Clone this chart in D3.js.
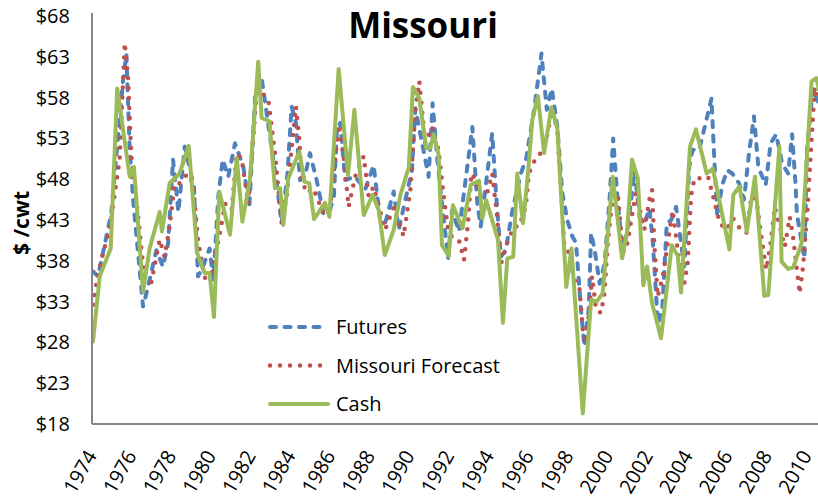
<!DOCTYPE html>
<html>
<head>
<meta charset="utf-8">
<script src="https://cdn.jsdelivr.net/npm/d3@7"></script>
<style>
  body { margin: 0; background: #fff; }
  text { font-family: "Open Sans", "Liberation Sans", sans-serif; fill: #000; }
</style>
</head>
<body>
<svg id="chart" width="818" height="499"></svg>
<script>
// Quarterly-ish readings, [year, $/cwt].
var futures = [
  [1974.00, 36.7], [1974.25, 36.1], [1974.92, 43.8], [1975.26, 53.2], [1975.51, 60.0],
  [1975.68, 63.3], [1975.85, 51.6], [1976.02, 45.5], [1976.52, 32.4], [1976.73, 34.4],
  [1977.19, 39.3], [1977.52, 37.3], [1977.78, 40.1], [1978.03, 50.4], [1978.30, 44.0],
  [1978.62, 52.0], [1979.08, 47.1], [1979.29, 36.1], [1979.54, 37.3], [1979.87, 39.5],
  [1980.06, 35.7], [1980.31, 45.9], [1980.53, 50.4], [1980.81, 48.3], [1981.15, 52.4],
  [1981.57, 49.5], [1981.87, 44.6], [1982.16, 58.1], [1982.49, 60.4], [1983.25, 47.5],
  [1983.50, 42.6], [1983.78, 48.3], [1984.00, 56.9], [1984.22, 54.9], [1984.42, 47.9],
  [1984.67, 48.3], [1984.92, 51.2], [1985.26, 47.9], [1985.60, 43.8], [1985.90, 44.0],
  [1986.13, 45.9], [1986.28, 54.0], [1986.45, 54.9], [1986.70, 47.9], [1987.20, 48.3],
  [1987.70, 46.7], [1988.13, 49.7], [1988.46, 43.0], [1988.71, 42.6], [1989.14, 46.5],
  [1989.39, 41.8], [1990.06, 49.1], [1990.23, 56.7], [1990.57, 52.4], [1990.90, 48.3],
  [1991.10, 57.3], [1991.32, 50.8], [1991.57, 45.0], [1991.88, 38.3], [1992.08, 44.2],
  [1992.43, 41.6], [1993.10, 54.4], [1993.35, 45.0], [1993.52, 42.2], [1994.10, 53.6],
  [1994.28, 46.7], [1994.53, 38.5], [1994.78, 39.3], [1995.12, 44.2], [1995.54, 48.7],
  [1995.80, 50.4], [1996.21, 56.5], [1996.58, 63.4], [1996.85, 56.5], [1997.10, 59.1],
  [1997.38, 54.4], [1997.63, 46.3], [1997.88, 43.0], [1998.13, 41.0], [1998.32, 40.2],
  [1998.57, 32.0], [1998.74, 27.5], [1998.96, 32.0], [1999.08, 41.4], [1999.26, 39.3],
  [1999.51, 35.2], [1999.76, 37.7], [2000.02, 45.9], [2000.19, 53.0], [2000.44, 44.6],
  [2000.69, 38.9], [2000.94, 42.2], [2001.27, 49.1], [2001.52, 43.4], [2001.77, 42.6],
  [2002.02, 44.4], [2002.19, 40.2], [2002.44, 30.3], [2002.66, 32.0], [2002.89, 42.6],
  [2003.11, 43.0], [2003.36, 44.6], [2003.52, 41.8], [2003.77, 37.3], [2004.02, 49.5],
  [2004.19, 51.6], [2004.52, 51.6], [2004.85, 54.9], [2005.14, 57.9], [2005.26, 51.6],
  [2005.43, 43.4], [2005.68, 47.3], [2005.94, 49.1], [2006.19, 48.7], [2006.53, 47.5],
  [2006.78, 45.5], [2007.03, 51.2], [2007.28, 55.7], [2007.50, 49.5], [2007.87, 47.3],
  [2008.12, 52.4], [2008.40, 53.5], [2008.70, 49.9], [2009.00, 48.7], [2009.20, 53.5],
  [2009.37, 47.5], [2009.44, 43.8], [2009.82, 38.3], [2009.94, 51.2], [2010.24, 59.1],
  [2010.54, 57.3]
];

var forecast = [
  [1974.00, 32.6], [1974.17, 35.2], [1974.50, 38.9], [1974.84, 41.8], [1975.34, 50.4],
  [1975.60, 64.7], [1975.76, 60.6], [1975.93, 50.8], [1976.10, 47.5], [1976.60, 35.6],
  [1976.94, 35.4], [1977.36, 40.6], [1977.60, 38.5], [1977.86, 42.2], [1978.11, 47.5],
  [1978.36, 47.5], [1978.78, 48.7], [1979.03, 47.5], [1979.29, 40.5], [1979.62, 35.9],
  [1979.98, 36.3], [1980.48, 42.6], [1980.65, 45.0], [1980.98, 44.2], [1981.24, 51.2],
  [1981.49, 50.4], [1981.82, 45.0], [1982.04, 52.0], [1982.24, 58.5], [1982.41, 58.9],
  [1982.83, 57.7], [1983.16, 51.2], [1983.50, 42.6], [1983.75, 45.9], [1984.22, 56.9],
  [1984.39, 52.8], [1984.51, 47.9], [1984.76, 46.3], [1985.09, 46.9], [1985.60, 43.8],
  [1985.93, 44.2], [1986.37, 54.7], [1986.62, 50.8], [1986.87, 44.6], [1987.20, 48.3],
  [1987.63, 50.8], [1987.88, 45.9], [1988.13, 47.1], [1988.71, 41.8], [1989.14, 44.6],
  [1989.64, 41.0], [1989.98, 46.7], [1990.23, 56.5], [1990.43, 60.0], [1990.73, 52.4],
  [1991.06, 54.4], [1991.40, 51.6], [1991.66, 45.9], [1991.88, 41.8], [1992.10, 40.8],
  [1992.43, 40.5], [1992.68, 38.1], [1992.88, 42.6], [1993.05, 48.7], [1993.27, 47.9],
  [1993.52, 45.9], [1993.85, 46.3], [1994.10, 48.7], [1994.35, 43.4], [1994.55, 37.7],
  [1994.86, 40.2], [1995.20, 42.2], [1995.45, 42.2], [1995.79, 44.6], [1995.95, 48.7],
  [1996.29, 50.6], [1996.71, 51.6], [1997.13, 56.5], [1997.38, 54.0], [1997.72, 40.2],
  [1997.97, 38.9], [1998.22, 35.7], [1998.49, 34.8], [1998.66, 29.5], [1998.82, 27.9],
  [1998.99, 32.0], [1999.13, 36.1], [1999.33, 32.0], [1999.58, 31.6], [1999.75, 34.0],
  [1999.92, 40.2], [2000.17, 45.9], [2000.42, 46.3], [2000.67, 39.3], [2000.92, 40.2],
  [2001.18, 44.2], [2001.34, 46.3], [2001.51, 44.6], [2001.76, 41.8], [2002.01, 45.5],
  [2002.15, 46.7], [2002.26, 40.2], [2002.43, 33.6], [2002.69, 36.1], [2002.94, 40.2],
  [2003.19, 44.2], [2003.52, 37.7], [2003.77, 35.2], [2003.94, 37.7], [2004.11, 45.9],
  [2004.28, 48.1], [2004.53, 48.1], [2004.97, 48.3], [2005.22, 45.9], [2005.56, 42.6],
  [2005.89, 41.8], [2006.23, 43.2], [2006.56, 42.0], [2006.90, 41.4], [2007.15, 45.9],
  [2007.40, 45.5], [2007.65, 41.0], [2007.90, 36.9], [2008.12, 40.2], [2008.33, 44.6],
  [2008.58, 42.2], [2008.83, 39.7], [2009.08, 43.4], [2009.25, 40.9], [2009.58, 34.0],
  [2009.75, 37.3], [2009.97, 44.2], [2010.17, 52.4], [2010.34, 59.3], [2010.47, 57.3]
];

var cash = [
  [1974.00, 28.1], [1974.34, 36.1], [1974.89, 39.5], [1975.22, 59.1], [1975.85, 48.3],
  [1976.06, 49.5], [1976.52, 34.2], [1976.85, 39.5], [1977.36, 44.0], [1977.47, 41.6],
  [1977.86, 47.5], [1978.36, 48.7], [1978.82, 52.1], [1979.25, 38.9], [1979.62, 36.5],
  [1979.87, 36.5], [1980.09, 31.1], [1980.36, 46.5], [1980.90, 41.2], [1981.24, 50.6],
  [1981.52, 42.8], [1981.90, 47.9], [1982.32, 62.4], [1982.49, 55.5], [1982.88, 55.1],
  [1983.16, 46.9], [1983.42, 46.9], [1983.58, 42.4], [1983.83, 48.1], [1984.39, 51.4],
  [1984.64, 47.7], [1984.89, 47.5], [1985.13, 43.1], [1985.68, 45.1], [1985.90, 43.4],
  [1986.37, 61.5], [1986.84, 48.5], [1987.16, 56.5], [1987.63, 43.6], [1988.08, 46.1],
  [1988.39, 44.2], [1988.69, 38.7], [1989.14, 41.8], [1989.48, 46.1], [1989.90, 49.5],
  [1990.11, 59.3], [1990.43, 57.9], [1990.78, 51.8], [1990.98, 51.8], [1991.15, 53.5],
  [1991.40, 51.0], [1991.57, 39.9], [1991.91, 38.6], [1992.12, 44.8], [1992.60, 42.0],
  [1993.02, 47.3], [1993.44, 47.8], [1993.60, 43.2], [1993.80, 45.4], [1994.39, 40.6],
  [1994.64, 30.4], [1994.86, 38.3], [1995.16, 38.5], [1995.36, 48.7], [1995.65, 42.6],
  [1995.90, 48.7], [1996.12, 55.3], [1996.40, 58.2], [1996.71, 51.2], [1997.08, 56.8],
  [1997.38, 54.2], [1997.83, 34.8], [1998.09, 39.5], [1998.66, 19.3], [1999.08, 33.2],
  [1999.36, 33.0], [1999.66, 34.0], [2000.17, 48.3], [2000.64, 38.3], [2000.89, 41.6],
  [2001.14, 50.4], [2001.43, 48.1], [2001.71, 35.0], [2001.90, 37.3], [2002.15, 32.8],
  [2002.60, 28.5], [2003.14, 39.9], [2003.44, 38.6], [2003.61, 34.1], [2004.06, 52.0],
  [2004.36, 54.1], [2004.90, 48.7], [2005.21, 49.3], [2006.04, 39.4], [2006.24, 46.1],
  [2006.55, 47.1], [2006.92, 41.6], [2007.33, 48.3], [2007.80, 33.7], [2008.00, 33.8],
  [2008.56, 52.0], [2008.67, 37.9], [2009.00, 37.0], [2009.26, 37.2], [2009.68, 40.2],
  [2010.18, 60.0], [2010.42, 60.4], [2010.55, 59.0]
];

var yTicks = [18, 23, 28, 33, 38, 43, 48, 53, 58, 63, 68];
var xTicks = d3.range(1974, 2011, 2);
var seriesNames = ['Futures', 'Missouri Forecast', 'Cash'];

var svg = d3.select('#chart'),
    width = +svg.attr('width'),
    height = +svg.attr('height');

var plotLeft = 92, plotRight = width, plotBottom = 424;

var x = d3.scaleLinear().domain([1974, 2010]).range([93, 808]);
var y = d3.scaleLinear().domain([18, 68]).range([plotBottom, 16]);

svg.append('rect').attr('width', width).attr('height', height).attr('fill', '#fff');

// Title
svg.append('text')
    .attr('x', 423)
    .attr('y', 38)
    .attr('text-anchor', 'middle')
    .attr('font-size', 35)
    .attr('font-weight', 'bold')
    .text('Missouri');

// Y axis
var yAxis = svg.append('g')
    .attr('transform', 'translate(' + plotLeft + ',0)')
    .call(d3.axisLeft(y).tickValues(yTicks).tickSize(0).tickPadding(22)
      .tickFormat(function(d) { return '$' + d; }));
yAxis.select('.domain').remove();
yAxis.selectAll('text')
    .attr('font-size', 20)
    .style('font-family', '"Open Sans", sans-serif');

svg.append('text')
    .attr('transform', 'translate(29,223) rotate(-90)')
    .attr('text-anchor', 'middle')
    .attr('font-size', 21)
    .attr('font-weight', 'bold')
    .text('$ /cwt');

// X axis labels, rotated
var xAxis = svg.append('g')
    .attr('transform', 'translate(0,' + plotBottom + ')')
    .call(d3.axisBottom(x).tickValues(xTicks).tickSize(0).tickFormat(d3.format('d')));
xAxis.select('.domain').remove();
xAxis.selectAll('text')
    .attr('font-size', 20)
    .style('font-family', '"Open Sans", sans-serif')
    .attr('text-anchor', 'end')
    .attr('x', 0)
    .attr('y', 0)
    .attr('dy', '0.35em')
    .attr('transform', 'translate(-2,28) rotate(-60)');

// Axis lines
svg.append('line')
    .attr('x1', plotLeft).attr('x2', plotLeft)
    .attr('y1', 13).attr('y2', plotBottom)
    .attr('stroke', '#868686').attr('stroke-width', 2);
svg.append('line')
    .attr('x1', plotLeft).attr('x2', plotRight)
    .attr('y1', plotBottom).attr('y2', plotBottom)
    .attr('stroke', '#868686').attr('stroke-width', 2);

svg.append('clipPath').attr('id', 'plot-clip')
  .append('rect')
    .attr('x', plotLeft + 1).attr('y', 0)
    .attr('width', plotRight - plotLeft).attr('height', plotBottom - 1);

var styles = [
  { color: '#4F81BD', dash: '6,8.5', width: 4 },
  { color: '#C0504D', dash: '0,10', width: 4.5 },
  { color: '#9BBB59', dash: null, width: 4 }
];

var line = d3.line()
    .x(function(d) { return x(d[0]); })
    .y(function(d) { return y(d[1]); });

var lines = svg.append('g').attr('clip-path', 'url(#plot-clip)');

[futures, forecast, cash].forEach(function(data, i) {
  lines.append('path')
      .datum(data)
      .attr('d', line)
      .attr('fill', 'none')
      .attr('stroke', styles[i].color)
      .attr('stroke-width', styles[i].width)
      .attr('stroke-dasharray', styles[i].dash)
      .attr('stroke-linecap', 'round')
      .attr('stroke-linejoin', 'round');
});

// Legend
var legend = svg.append('g').attr('transform', 'translate(268,327)');
var entry = legend.selectAll('g')
    .data(seriesNames)
  .enter().append('g')
    .attr('transform', function(d, i) { return 'translate(0,' + (i * 38.5) + ')'; });

entry.append('line')
    .attr('x1', 2).attr('x2', 60)
    .attr('stroke', function(d, i) { return styles[i].color; })
    .attr('stroke-width', function(d, i) { return styles[i].width; })
    .attr('stroke-dasharray', function(d, i) { return styles[i].dash; })
    .attr('stroke-linecap', 'round');

entry.append('text')
    .attr('x', 68)
    .attr('dy', '0.35em')
    .attr('font-size', 20)
    .text(function(d) { return d; });
</script>
</body>
</html>
